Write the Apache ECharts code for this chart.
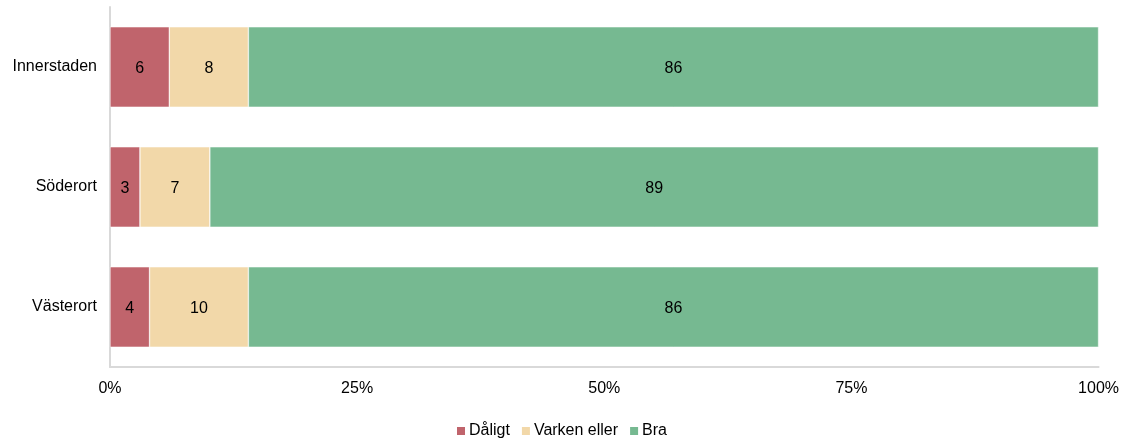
<!DOCTYPE html>
<html>
<head>
<meta charset="utf-8">
<script src="https://cdn.jsdelivr.net/npm/echarts@6/dist/echarts.min.js"></script>
<style>
  html, body { margin: 0; padding: 0; background: #fff; }
  #chart { width: 1122px; height: 440px; }
</style>
</head>
<body>
<div id="chart"></div>
<script>
const categories = ["Innerstaden", "Söderort", "Västerort"];
const seriesNames = ["Dåligt", "Varken eller", "Bra"];
const dåligt = [6, 3, 4];
const varken = [8, 7, 10];
const bra = [86, 89, 86];
const tickLabels = ["0%", "25%", "50%", "75%", "100%"];
const colors = ["#c0646c", "#f2d8a9", "#76b991"];

// bars are shown as share of each row total (rounded labels may not sum to 100)
const totals = categories.map((c, i) => dåligt[i] + varken[i] + bra[i]);
const share = arr => arr.map((v, i) => ({ value: v / totals[i] * 100, label: v }));

const font = "Liberation Sans, Arial, sans-serif";

const makeSeries = (name, arr, color) => ({
  name: name,
  type: "bar",
  stack: "total",
  barCategoryGap: "33%",
  itemStyle: { color: color, borderColor: "#ffffff", borderWidth: 0.5 },
  label: {
    show: true,
    position: "inside",
    offset: [0, 2],
    color: "#000",
    fontFamily: font,
    fontSize: 16,
    formatter: p => p.data.label
  },
  data: share(arr)
});

const chart = echarts.init(document.getElementById("chart"));
chart.setOption({
  animation: false,
  color: colors,
  grid: { left: 110, right: 23, top: 7, bottom: 73, containLabel: false },
  legend: {
    top: 418,
    left: "center",
    itemWidth: 10,
    itemHeight: 10,
    itemGap: 10,
    icon: "rect",
    textStyle: { fontFamily: font, fontSize: 16, color: "#000", padding: [0, 0, 0, -2] },
    data: seriesNames
  },
  xAxis: {
    type: "value",
    min: 0,
    max: 100,
    interval: 25,
    axisLine: { show: true, lineStyle: { color: "#d9d9d9", width: 2 } },
    axisTick: { show: false },
    splitLine: { show: false },
    axisLabel: {
      margin: 14,
      color: "#000",
      fontFamily: font,
      fontSize: 16,
      formatter: v => tickLabels[v / 25]
    }
  },
  yAxis: {
    type: "category",
    inverse: true,
    data: categories,
    axisLine: { show: true, lineStyle: { color: "#d9d9d9", width: 2 } },
    axisTick: { show: false },
    axisLabel: { margin: 13, color: "#000", fontFamily: font, fontSize: 16, padding: [6, 0, 0, 0] }
  },
  series: [
    makeSeries(seriesNames[0], dåligt, colors[0]),
    makeSeries(seriesNames[1], varken, colors[1]),
    makeSeries(seriesNames[2], bra, colors[2])
  ]
});
</script>
</body>
</html>
